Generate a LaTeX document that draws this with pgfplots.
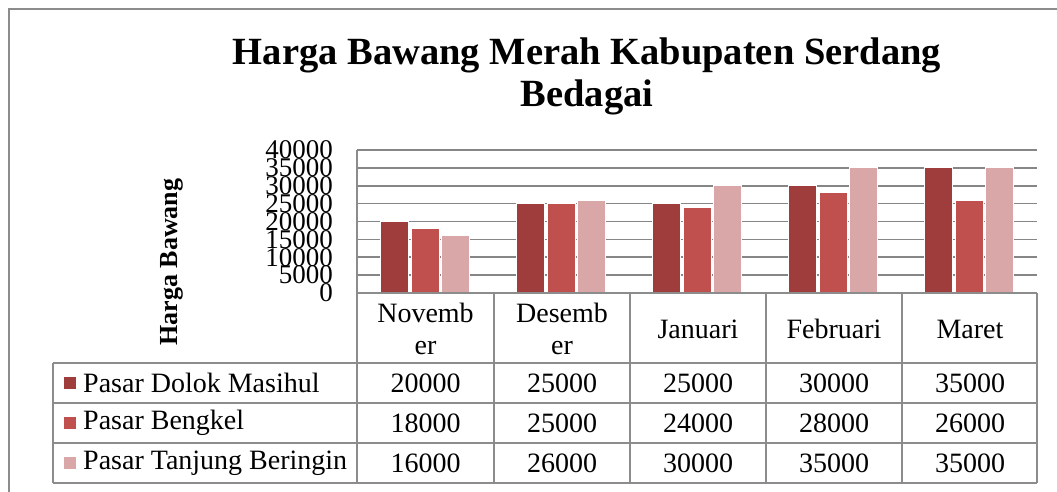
\documentclass[border=0pt]{standalone}
\usepackage{pgfplots}
\pgfplotsset{compat=1.18}
\usepackage{fontspec}
\setmainfont{Liberation Serif}
\definecolor{cDark}{RGB}{158,61,60}
\definecolor{cMed}{RGB}{192,80,77}
\definecolor{cLight}{RGB}{217,167,167}
\definecolor{cGrid}{RGB}{134,134,134}
\definecolor{cLine}{RGB}{140,140,140}
\begin{document}
\begin{tikzpicture}[x=1pt,y=1pt]
\path[use as bounding box] (0,0) rectangle (1057,492);
% outer frame
\draw[cLine, line width=2pt] (9,-20) -- (9,483) -- (1080,483);
% title
\node[align=center, font=\fontsize{38.5}{42}\selectfont\bfseries] at (587,416)
  {Harga Bawang Merah Kabupaten Serdang\\Bedagai};
% y label
\node[rotate=90, font=\fontsize{26}{30}\selectfont\bfseries] at (172,230) {Harga Bawang};
\begin{axis}[
  at={(357pt,199pt)}, anchor=south west,
  scale only axis, width=680pt, height=143pt,
  xmin=-0.5, xmax=4.5, ymin=0, ymax=40000,
  ytick distance=5000, xtick=\empty,
  scaled y ticks=false,
  ymajorgrids, grid style={cGrid, line width=1.6pt},
  axis line style={draw=none},
  major tick length=0pt,
  /pgf/number format/1000 sep={},
  /pgf/number format/assume math mode=true,
  yticklabel style={font=\fontsize{27}{27}\selectfont, inner sep=0pt, anchor=east, xshift=-24pt},
  ybar=2.5pt, bar width=28pt,
  clip=false,
]
\addplot[fill=cDark, draw=white, line width=0.8pt] coordinates {(0,20000) (1,25000) (2,25000) (3,30000) (4,35000)};
\addplot[fill=cMed, draw=white, line width=0.8pt] coordinates {(0,18000) (1,25000) (2,24000) (3,28000) (4,26000)};
\addplot[fill=cLight, draw=white, line width=0.8pt] coordinates {(0,16000) (1,26000) (2,30000) (3,35000) (4,35000)};
\end{axis}
% table lines
\begin{scope}[cLine, line width=1.6pt]
\draw (357,342) -- (357,9);
\draw (357,199) -- (1037,199);
\draw (53,129) -- (1037,129);
\draw (53,89) -- (1037,89);
\draw (53,49) -- (1037,49);
\draw (53,9) -- (1037,9);
\draw (53,129) -- (53,9);
\foreach \xx in {494,630,766,902,1037} \draw (\xx,199) -- (\xx,9);
\end{scope}
% header cells
\begin{scope}[every node/.style={font=\fontsize{28}{32}\selectfont, align=center}]
\node at (425.5,163) {Novemb\\er};
\node at (562,163) {Desemb\\er};
\node at (698,163) {Januari};
\node at (834,163) {Februari};
\node at (970,163) {Maret};
% legend column
\fill[cDark] (64,103) rectangle (76,115);
\fill[cMed] (64,63) rectangle (76,75);
\fill[cLight] (64,23) rectangle (76,35);
\node[anchor=west, inner sep=0pt] at (83,109) {Pasar Dolok Masihul};
\node[anchor=west, inner sep=0pt] at (83,69) {Pasar Bengkel};
\node[anchor=west, inner sep=0pt] at (83,29) {Pasar Tanjung Beringin};
% values
\foreach \xx/\a/\b/\c in {425.5/20000/18000/16000, 562/25000/25000/26000, 698/25000/24000/30000, 834/30000/28000/35000, 970/35000/26000/35000} {
  \node at (\xx,109) {\a};
  \node at (\xx,69) {\b};
  \node at (\xx,29) {\c};
}
\end{scope}
\end{tikzpicture}
\end{document}
